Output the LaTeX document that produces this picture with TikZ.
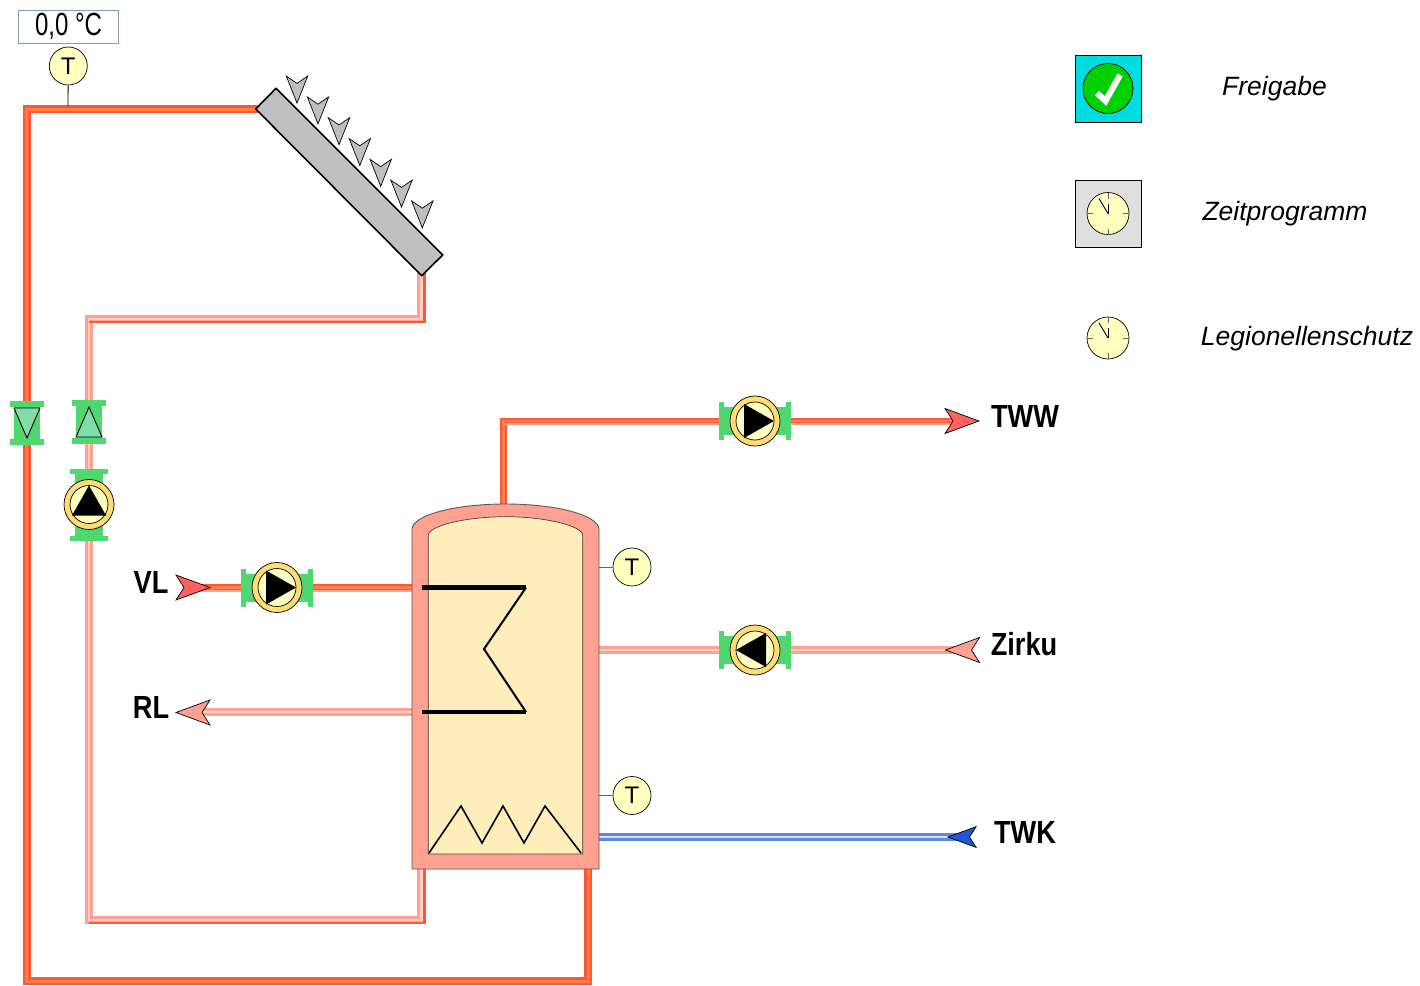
\documentclass[tikz,border=0pt]{standalone}
\usepackage{fontspec}
\setmainfont{Liberation Sans}
\newfontfamily\labelfont[FakeStretch=0.85]{Liberation Sans}
\newfontfamily\readfont[FakeStretch=0.75]{Liberation Sans}
\definecolor{hotpipe}{HTML}{FF5733}
\definecolor{hotcore}{HTML}{FF7E48}
\definecolor{warmpipe}{HTML}{FFA090}
\definecolor{warmcore}{HTML}{FFD0C8}
\definecolor{coldpipe}{HTML}{6088E0}
\definecolor{coldcore}{HTML}{D4E0FF}
\definecolor{flange}{HTML}{50D870}
\definecolor{valvegreen}{HTML}{80DDAA}
\definecolor{ringyellow}{HTML}{FFDD70}
\definecolor{faceyellow}{HTML}{FFFFC0}
\definecolor{tankfill}{HTML}{FFEEBB}
\definecolor{tipred}{HTML}{FF6060}
\definecolor{tipblue}{HTML}{2058D8}
\tikzset{
	hot/.style={draw=hotpipe, line width=2.5pt, double=hotcore, double distance=3pt},
	warm/.style={draw=warmpipe, line width=3pt, double=warmcore, double distance=2.5pt},
	cold/.style={draw=coldpipe, line width=2.25pt, double=coldcore, double distance=2.75pt},
	hotedge/.style={draw=hotpipe, line width=2.5pt},
	warmedge/.style={draw=warmpipe, line width=2pt},
	sensor/.style={circle, draw, line width=0.7pt, fill=faceyellow, minimum size=38pt, inner sep=0pt, font=\fontsize{24}{24}\selectfont},
	flowlabel/.style={anchor=base, font=\labelfont\bfseries\fontsize{32}{32}\selectfont},
	legendtext/.style={anchor=base, font=\itshape\fontsize{26.5}{26.5}\selectfont},
	pics/flowpump/.style={code={
		\fill[flange] (-36,-14) rectangle (36,14);
		\fill[flange] (-36,-19) rectangle (-31,19);
		\fill[flange] (31,-19) rectangle (36,19);
		\filldraw[fill=ringyellow, line width=0.7pt] (0,0) circle (25);
		\filldraw[fill=faceyellow, line width=0.7pt] (0,0) circle (19);
		\fill (19,0) -- (-11,-17) -- (-11,17) -- cycle;
	}},
	pics/flowvalve/.style={code={
		\fill[flange] (-22,-13) rectangle (22,13);
		\fill[flange] (-22,-17) rectangle (-16,17);
		\fill[flange] (16,-17) rectangle (22,17);
		\filldraw[fill=valvegreen, line width=0.9pt] (15,0) -- (-15,-13) -- (-15,13) -- cycle;
	}},
	pics/flowtip/.style={code={
		\filldraw[fill=#1, line width=0.7pt, line join=miter] (17,0) -- (-17,-12.5) -- (-9,0) -- (-17,12.5) -- cycle;
	}},
	pics/sunray/.style={code={
		\filldraw[fill=gray!50!white, line width=0.7pt] (-10.7,-13.6) -- (0,-6.3) -- (10.7,-13.6) -- (0,13.4) -- cycle;
	}},
	pics/clockface/.style={code={
		\filldraw[fill=faceyellow, line width=0.7pt] (0,0) circle (21);
		\draw[line width=0.8pt, black!60] (0,-21) -- (0,-15) (0,21) -- (0,15) (-21,0) -- (-15,0) (21,0) -- (15,0);
		\draw[line width=0.9pt] (0,0) -- (0,-10);
		\draw[line width=0.9pt] (0,0) -- (-9,-15);
	}},
}
\begin{document}
\begin{tikzpicture}[x=1pt, y=-1pt]
	\useasboundingbox (0,0) rectangle (1420,985);
	% pipe ends
	\coordinate (collectorHot) at (262,109);
	\coordinate (collectorRet) at (421.5,272);
	\coordinate (leftHot) at (26.7,109);
	\coordinate (bottomHot) at (26.7,981);
	\coordinate (tankHot) at (588,866);
	\coordinate (leftRet) at (89,319);
	\coordinate (bottomRet) at (89,920);
	\coordinate (tankRet) at (421.5,866);
	\coordinate (tankTop) at (503.5,508);
	\coordinate (twwTurn) at (503.5,421);
	\coordinate (twwEnd) at (952,421);
	\coordinate (vlEnd) at (190,587.5);
	\coordinate (vlTank) at (414,587.5);
	\coordinate (rlEnd) at (200,712);
	\coordinate (rlTank) at (414,712);
	\coordinate (zirkuEnd) at (972,650);
	\coordinate (zirkuTank) at (597,650);
	\coordinate (twkEnd) at (970,837);
	\coordinate (twkTank) at (597,837);
	\coordinate (tempPipe) at (68,106);
	\coordinate (tempTankA) at (599,567);
	\coordinate (tempTankB) at (599,795.5);
	% pipes
	\draw[hot] (collectorHot) -- (leftHot) -- (bottomHot) -- (bottomHot -| tankHot) -- (tankHot);
	\draw[warm] (collectorRet) |- (leftRet) -- (bottomRet) -- (bottomRet -| tankRet) -- (tankRet);
	\draw[hotedge] ([xshift=3pt]collectorRet) -- ([xshift=3pt,yshift=-3pt]collectorRet |- leftRet) -- ([yshift=-3pt]leftRet);
	\draw[hotedge] ([yshift=-3pt]bottomRet) -- ([xshift=3pt,yshift=-3pt]bottomRet -| tankRet) -- ([xshift=3pt]tankRet);
	\draw[hot, line width=2.25pt, double distance=2.5pt] (tankTop) -- (twwTurn) -- (twwEnd);
	\draw[warmedge] ([yshift=-3pt]twwTurn) -- ([yshift=-3pt]twwEnd);
	\draw[hot, line width=2.25pt, double distance=2.5pt] (vlEnd) -- (vlTank);
	\draw[warmedge] ([yshift=-3pt]vlEnd) -- ([yshift=-3pt]vlTank);
	\draw[warm] (rlEnd) -- (rlTank);
	\draw[warm] (zirkuEnd) -- (zirkuTank);
	\draw[cold] (twkEnd) -- (twkTank);
	% collector
	\filldraw[fill=gray!50!white, line width=1.6pt, line join=round] (276,88.3) -- (255.7,109) -- (421.7,275.7) -- (442.7,255) -- cycle;
	\pic at (297,89.7) {sunray};
	\pic at (318,110.5) {sunray};
	\pic at (339,131.3) {sunray};
	\pic at (359.8,152.1) {sunray};
	\pic at (380.7,172.9) {sunray};
	\pic at (401.5,193.7) {sunray};
	\pic at (422.3,214.5) {sunray};
	% tank
	\filldraw[fill=warmpipe, draw=black!65, line width=0.9pt] (412,869) -- (412,529) .. controls (413,515) and (455,504) .. (505.5,504) .. controls (556,504) and (598,515) .. (599,529) -- (599,869) -- cycle;
	\filldraw[fill=tankfill, draw=black!75, line width=0.7pt] (428.3,854) -- (428.3,535) .. controls (429,526) and (465,516.7) .. (505.5,516.7) .. controls (546,516.7) and (582,526) .. (582.7,535) -- (582.7,854) -- cycle;
	\draw[line width=2pt, line join=miter] (526,587.5) -- (484,649) -- (526,712);
	\draw[line width=4.5pt] (422,587.5) -- (526,587.5);
	\draw[line width=4.5pt] (422,712) -- (526,712);
	\draw[line width=1.6pt] (429,853) -- (461,806) -- (482,843) -- (503,806) -- (524,843) -- (545,806) -- (581,853);
	% pumps and valves
	\pic at (755,421) {flowpump};
	\pic[rotate=180] at (755,650) {flowpump};
	\pic at (277,587.5) {flowpump};
	\pic[rotate=90] at (89,504.5) {flowpump};
	\pic[rotate=-90] at (27,423) {flowvalve};
	\pic[rotate=90] at (89,422) {flowvalve};
	% arrow tips
	\pic at (962,421) {flowtip=tipred};
	\pic at (193,587.5) {flowtip=tipred};
	\pic[rotate=180] at (193,712.5) {flowtip=warmpipe};
	\pic[rotate=180] at (962.5,650) {flowtip=warmpipe};
	\pic[rotate=180, scale=0.83] at (962,837) {flowtip=tipblue};
	% sensors
	\node[sensor] (sensorTop) at (68.3,66) {T};
	\node[sensor] (sensorTankA) at (632,567) {T};
	\node[sensor] (sensorTankB) at (632,795.5) {T};
	\draw[line width=0.8pt] (sensorTop) -- (tempPipe);
	\draw[black!60, line width=0.8pt] (sensorTankA) -- (tempTankA);
	\draw[black!60, line width=0.8pt] (sensorTankB) -- (tempTankB);
	\node[draw={rgb,255:red,127;green,157;blue,185}, line width=0.8pt, minimum width=100pt, minimum height=33pt, inner sep=0pt, font=\readfont\fontsize{32}{32}\selectfont] (readout) at (68.5,26.5) {\raisebox{-1.5pt}{0,0 °C}};
	% labels
	\node[flowlabel] (labelTWW) at (1025,427.5) {TWW};
	\node[flowlabel] (labelZirku) at (1024,655.5) {Zirku};
	\node[flowlabel] (labelTWK) at (1025,843.5) {TWK};
	\node[flowlabel] (labelVL) at (151,593.5) {VL};
	\node[flowlabel] (labelRL) at (151,718.5) {RL};
	% legend
	\filldraw[fill={rgb,255:red,0;green,221;blue,224}, line width=0.8pt] (1075.5,55.5) rectangle (1141.5,122);
	\filldraw[fill={rgb,255:red,0;green,208;blue,0}, line width=0.7pt] (1108,88.5) circle (25);
	\draw[white, line width=6pt] (1097,93) -- (1105.5,101) -- (1120,75);
	\filldraw[fill=black!13, line width=0.8pt] (1075.5,180.5) rectangle (1141.5,247);
	\pic at (1108,213.5) {clockface};
	\pic at (1108,338) {clockface};
	\node[legendtext] (legendA) at (1274.5,95) {Freigabe};
	\node[legendtext] (legendB) at (1285,220) {Zeitprogramm};
	\node[legendtext] (legendC) at (1307,345) {Legionellenschutz};
\end{tikzpicture}
\end{document}
